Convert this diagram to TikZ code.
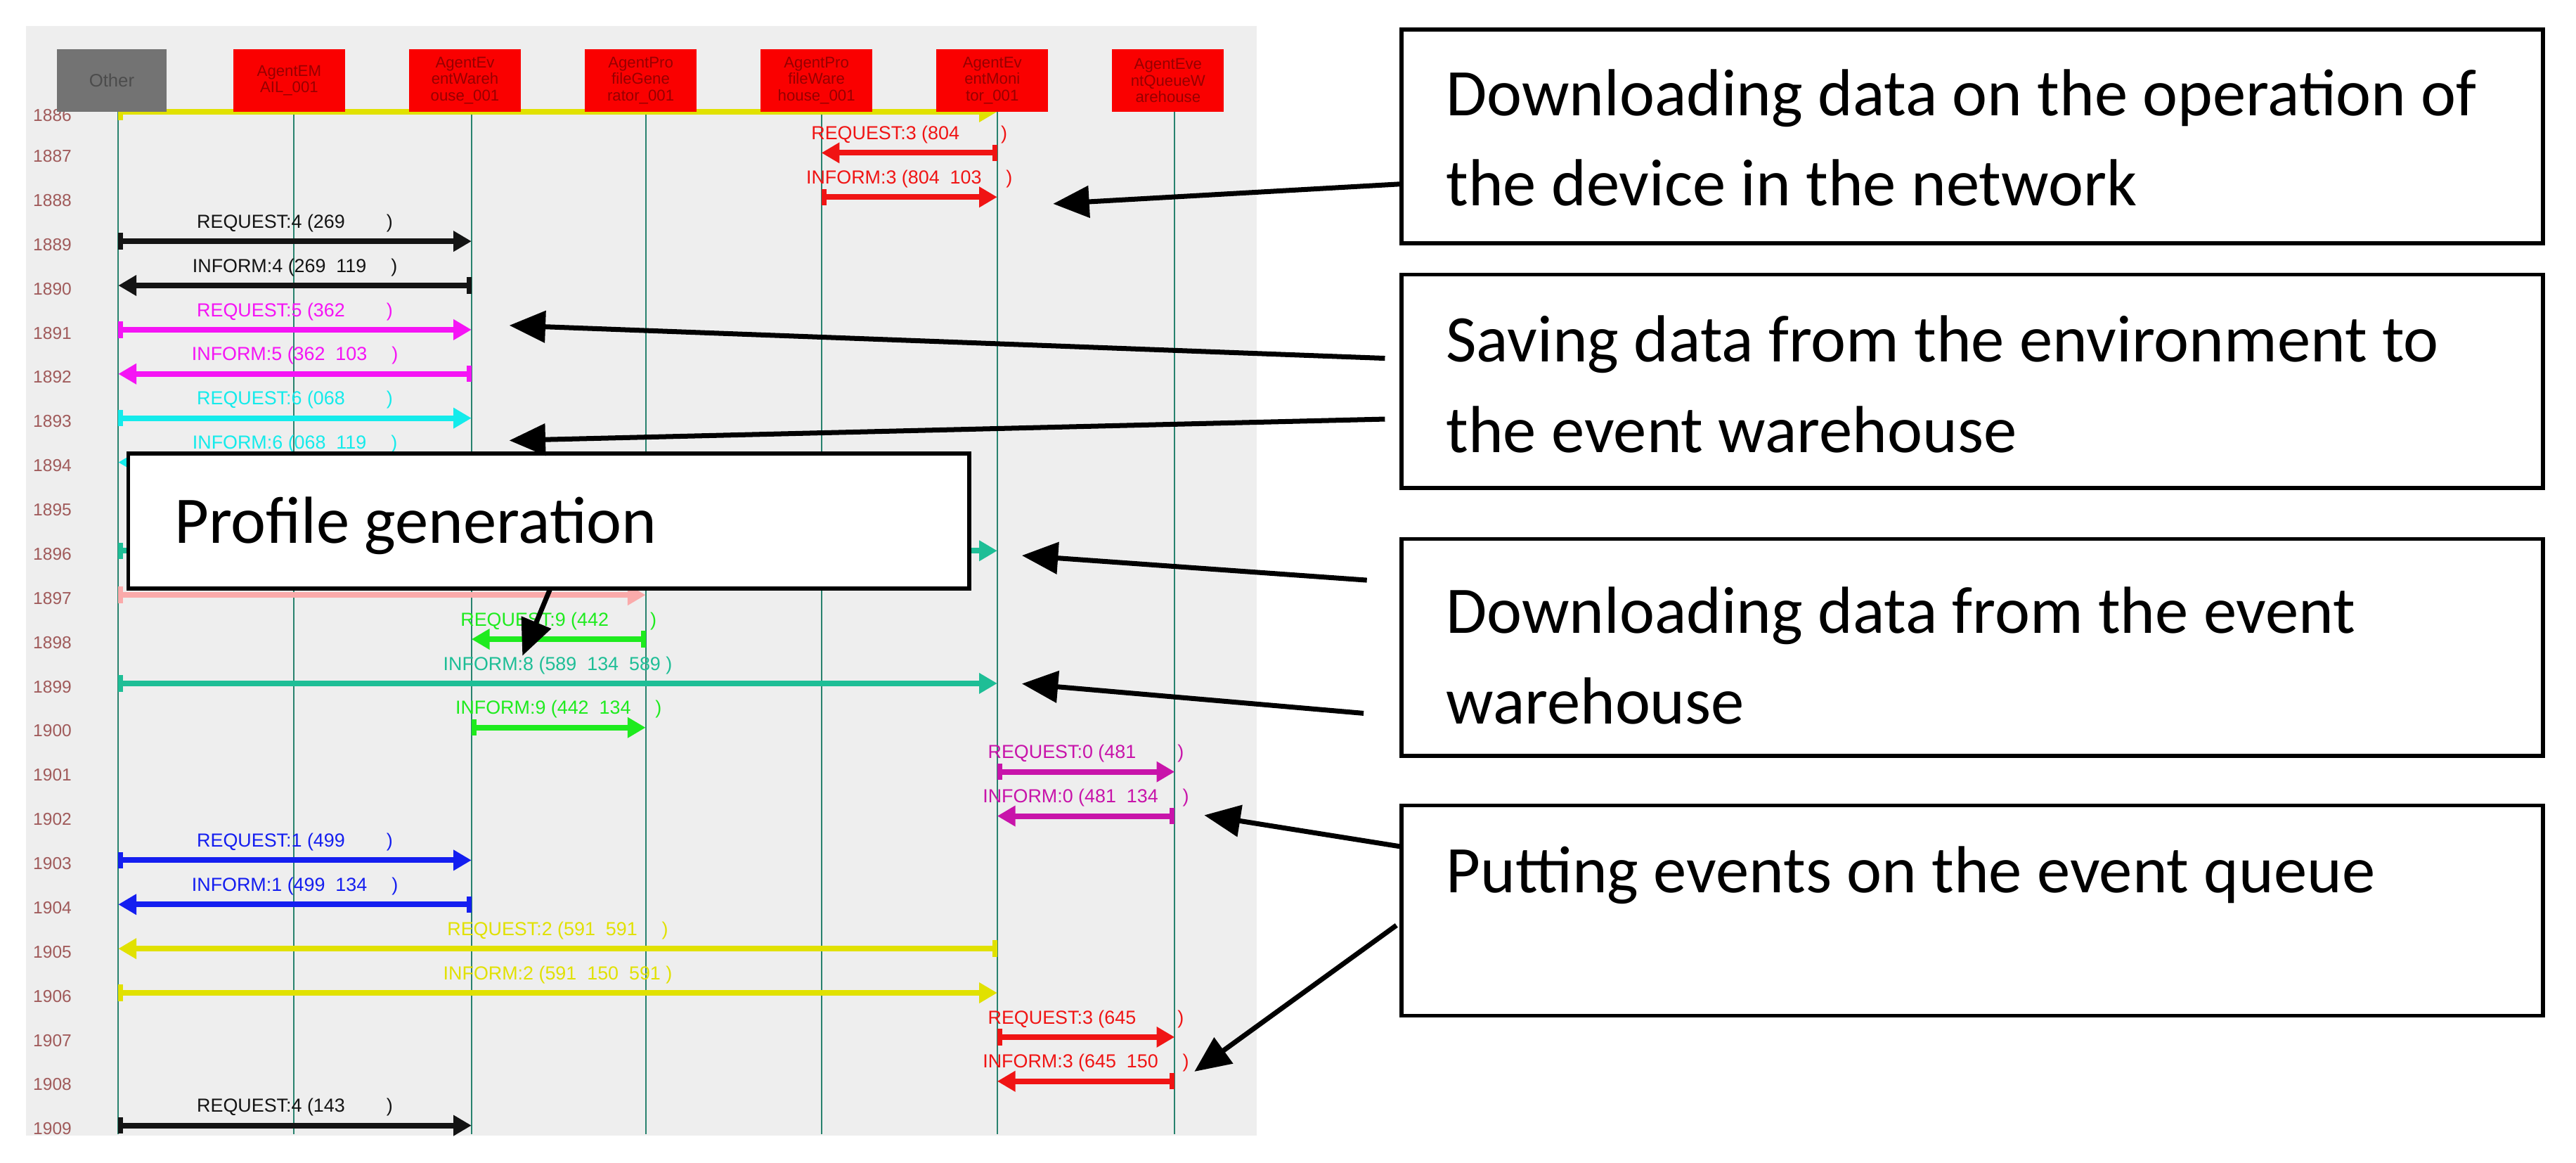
\documentclass[tikz,border=0pt]{standalone}
\usepackage{fontspec}
\setmainfont{Carlito}
\newfontfamily\uisans{Liberation Sans}
\usetikzlibrary{arrows.meta}
\definecolor{panel}{RGB}{238,238,238}
\definecolor{life}{RGB}{40,130,110}
\definecolor{rownum}{RGB}{160,90,90}
\definecolor{hdrred}{RGB}{250,0,0}
\definecolor{hdrtxt}{RGB}{150,0,0}
\definecolor{mred}{RGB}{240,20,20}
\definecolor{mblack}{RGB}{20,20,20}
\definecolor{mmag}{RGB}{245,20,245}
\definecolor{mcyan}{RGB}{20,235,235}
\definecolor{mteal}{RGB}{30,190,150}
\definecolor{mgreen}{RGB}{30,235,30}
\definecolor{mpurp}{RGB}{200,20,170}
\definecolor{mblue}{RGB}{20,30,240}
\definecolor{myel}{RGB}{225,225,0}
\definecolor{mpink}{RGB}{250,170,170}
\begin{document}
\begin{tikzpicture}[x=1pt,y=-1pt,
  hdr/.style={draw=none,fill=hdrred,minimum width=68pt,minimum height=38pt,inner sep=0pt,align=center,text=hdrtxt,font=\uisans\fontsize{9.5}{10}\selectfont},
  lifeline/.style={draw=life,line width=0.8pt},
  msg/.style={line width=3.4pt,{Bar[width=10pt,line width=3pt]}-{Triangle[length=11pt,width=12pt]}},
  mlab/.style={font=\uisans\fontsize{11.5}{12}\selectfont,inner sep=0pt,anchor=south},
  rn/.style={font=\uisans\fontsize{10.5}{10.5}\selectfont,text=rownum,anchor=west,inner sep=0pt},
  callout/.style={draw=black,line width=2.4pt,fill=white},
  ctext/.style={font=\fontsize{40.5}{55}\selectfont,align=left,anchor=north west,inner sep=0pt},
  carrow/.style={line width=3pt,-{Triangle[length=22pt,width=19pt]}}]
\useasboundingbox (0,0) rectangle (1568,707.6);
\fill[white] (0,0) rectangle (1568,707.6);
\fill[panel] (16,16) rectangle (765,691);
% lifelines
\foreach \n/\x in {L0/72,L1/179,L2/287,L3/393,L4/500,L5/607,L6/715}{
  \coordinate (\n top) at (\x,68);
  \coordinate (\n bot) at (\x,690);
  \draw[lifeline] (\n top) -- (\n bot);
}
% row numbers
\foreach \r in {1887,...,1909}{
  \node[rn] (rn\r) at (20,{95+(\r-1887)*26.9}) {\r};
}
\node[rn] (rn1886) at (20,70) {1886};
% messages: row/from/to/colour/label
\foreach \r/\a/\b/\c/\t in {
  1886/0/5/myel/{},
  1887/5/4/mred/{REQUEST:3 (804\hspace{2.2em})},
  1888/4/5/mred/{INFORM:3 (804\ \ 103\hspace{1.3em})},
  1889/0/2/mblack/{REQUEST:4 (269\hspace{2.2em})},
  1890/2/0/mblack/{INFORM:4 (269\ \ 119\hspace{1.3em})},
  1891/0/2/mmag/{REQUEST:5 (362\hspace{2.2em})},
  1892/2/0/mmag/{INFORM:5 (362\ \ 103\hspace{1.3em})},
  1893/0/2/mcyan/{REQUEST:6 (068\hspace{2.2em})},
  1894/2/0/mcyan/{INFORM:6 (068\ \ 119\hspace{1.3em})},
  1896/0/5/mteal/{},
  1897/0/3/mpink/{},
  1898/3/2/mgreen/{REQUEST:9 (442\hspace{2.2em})},
  1899/0/5/mteal/{INFORM:8 (589\ \ 134\ \ 589 )},
  1900/2/3/mgreen/{INFORM:9 (442\ \ 134\hspace{1.3em})},
  1901/5/6/mpurp/{REQUEST:0 (481\hspace{2.2em})},
  1902/6/5/mpurp/{INFORM:0 (481\ \ 134\hspace{1.3em})},
  1903/0/2/mblue/{REQUEST:1 (499\hspace{2.2em})},
  1904/2/0/mblue/{INFORM:1 (499\ \ 134\hspace{1.3em})},
  1905/5/0/myel/{REQUEST:2 (591\ \ 591\hspace{1.3em})},
  1906/0/5/myel/{INFORM:2 (591\ \ 150\ \ 591 )},
  1907/5/6/mred/{REQUEST:3 (645\hspace{2.2em})},
  1908/6/5/mred/{INFORM:3 (645\ \ 150\hspace{1.3em})},
  1909/0/2/mblack/{REQUEST:4 (143\hspace{2.2em})}}{
  \pgfmathsetmacro{\yy}{ifthenelse(\r==1886,68,95+(\r-1887)*26.9-2)}
  \path (L\a top |- 0,\yy) coordinate (m\r s) (L\b top |- 0,\yy) coordinate (m\r e);
  \draw[msg,draw=\c,color=\c] (m\r s) -- (m\r e) node[midway,above=4pt,mlab,text=\c] (ml\r) {\t};
}
% headers
\node[hdr,fill=gray!90!black,text=black!70,minimum width=67pt,font=\uisans\fontsize{11}{11}\selectfont] (hOther) at (68,49) {Other};
\node[hdr] (h1) at (176,49) {AgentEM\\AIL\_001};
\node[hdr] (h2) at (283,49) {AgentEv\\entWareh\\ouse\_001};
\node[hdr] (h3) at (390,49) {AgentPro\\fileGene\\rator\_001};
\node[hdr] (h4) at (497,49) {AgentPro\\fileWare\\house\_001};
\node[hdr] (h5) at (604,49) {AgentEv\\entMoni\\tor\_001};
\node[hdr] (h6) at (711,49) {AgentEve\\ntQueueW\\arehouse};
% callouts
\draw[callout] (853,18) rectangle (1548,148);
\node[ctext] (c1) at (880,42) {Downloading data on the operation of\\the device in the network};
\draw[callout] (853,167) rectangle (1548,297);
\node[ctext] (c2) at (880,192) {Saving data from the environment to\\the event warehouse};
\draw[callout] (853,328) rectangle (1548,460);
\node[ctext] (c3) at (880,357) {Downloading data from the event\\warehouse};
\draw[callout] (853,490) rectangle (1548,618);
\node[ctext] (c4) at (880,515) {Putting events on the event queue};
\draw[callout] (78,276) rectangle (590,358);
\node[ctext] (c5) at (106,302) {Profile generation};
% callout arrows
\coordinate (a1s) at (852,112); \coordinate (a1e) at (641,124);
\coordinate (a2s) at (843,218); \coordinate (a2e) at (310,198);
\coordinate (a3s) at (843,255); \coordinate (a3e) at (310,268);
\coordinate (a4s) at (832,353); \coordinate (a4e) at (622,338);
\coordinate (a5s) at (830,434); \coordinate (a5e) at (622,416);
\coordinate (a6s) at (852,515); \coordinate (a6e) at (733,496);
\coordinate (a7s) at (850,563); \coordinate (a7e) at (727,652);
\coordinate (a8s) at (335,358); \coordinate (a8e) at (318,399);
\foreach \i in {1,...,8}{\draw[carrow] (a\i s) -- (a\i e);}
\end{tikzpicture}
\end{document}
